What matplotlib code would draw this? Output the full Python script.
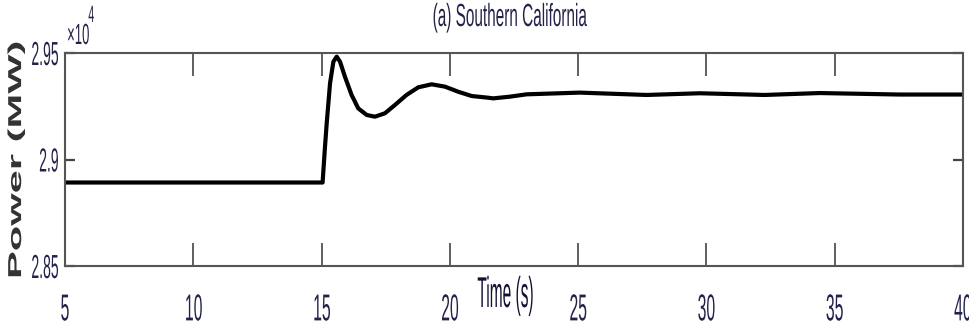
import matplotlib
matplotlib.use("Agg")
import matplotlib.pyplot as plt
import matplotlib.patheffects as pe
from matplotlib.transforms import Affine2D
from matplotlib.ticker import FuncFormatter

# values (time in s, power in MW)
time_s = [5.0, 15.04, 15.13, 15.20, 15.33, 15.46, 15.59, 15.72, 15.91, 16.17,
          16.43, 16.76, 17.08, 17.47, 17.86, 18.31, 18.77, 19.29, 19.81, 20.33,
          20.85, 21.50, 21.69, 22.34, 22.99, 25.06, 27.67, 29.74, 32.27, 34.41,
          37.53, 40.0]
power_mw = [28892, 28892, 29054, 29170, 29358, 29459, 29483, 29459, 29389, 29303,
            29240, 29209, 29201, 29217, 29256, 29303, 29339, 29353, 29342, 29318,
            29298, 29290, 29287, 29295, 29306, 29314, 29303, 29311, 29303, 29312,
            29305, 29305]
x_ticks = [5, 10, 15, 20, 25, 30, 35, 40]
y_ticks = [28500, 29000, 29500]


class Squeeze(pe.AbstractPathEffect):
    # the source picture is squashed sideways, so squash the glyphs the same way
    def __init__(self, sx=0.42, anchor=0.5):
        super().__init__()
        self.sx = sx
        self.anchor = anchor

    def draw_path(self, renderer, gc, tpath, affine, rgbFace=None):
        ext = tpath.get_extents(affine)
        cx = ext.x0 + self.anchor * ext.width
        t = affine + Affine2D().translate(-cx, 0).scale(self.sx, 1).translate(cx, 0)
        renderer.draw_path(gc, tpath, t, rgbFace)


W, H = 970, 331
txt_col = "#23234a"
font = "Liberation Sans"

fig = plt.figure(figsize=(W / 100, H / 100), dpi=100)
ax = fig.add_axes([65 / W, 1 - 266 / H, 898 / W, 213 / H])

ax.plot(time_s, power_mw, color="black", lw=3.0, solid_joinstyle="round")

ax.set_xlim(5, 40)
ax.set_ylim(28500, 29500)
ax.set_xticks(x_ticks)
ax.set_yticks(y_ticks)
ax.yaxis.set_major_formatter(FuncFormatter(lambda v, p: f"{v / 1e4:g}"))

ax.tick_params(axis="x", direction="in", length=16.5, width=1.2, color="#444444",
               top=True, pad=19, labelsize=27)
ax.tick_params(axis="y", direction="in", length=7.5, width=1.6, color="#444444",
               right=True, pad=4, labelsize=24)
for lab in ax.get_xticklabels():
    lab.set_fontfamily(font)
    lab.set_color(txt_col)
    lab.set_path_effects([Squeeze(0.42, 0.5)])
for lab in ax.get_yticklabels():
    lab.set_fontfamily(font)
    lab.set_color(txt_col)
    lab.set_path_effects([Squeeze(0.42, 1.0)])
for s in ax.spines.values():
    s.set_color("#555555")
    s.set_linewidth(1.5)

fig.text(510 / W, 1 - 18 / H, "(a) Southern California", fontfamily=font,
         fontsize=23, color=txt_col, ha="center", va="center",
         path_effects=[Squeeze(0.48)])
fig.text(506 / W, 1 - 296 / H, "Time (s)", fontfamily=font, fontsize=31,
         color="#111133", ha="center", va="center", path_effects=[Squeeze(0.36)])
fig.text(16 / W, 1 - 160 / H, "Power (MW)", fontfamily=font, fontweight="bold",
         fontsize=30, color="#333333", rotation=90, ha="center", va="center",
         path_effects=[Squeeze(0.45)])
fig.text(66 / W, 1 - 44 / H, "×10", fontfamily=font, fontsize=21,
         color=txt_col, ha="left", va="baseline", path_effects=[Squeeze(0.45, 0.0)])
fig.text(88 / W, 1 - 22 / H, "4", fontfamily=font, fontsize=17,
         color=txt_col, ha="left", va="baseline", path_effects=[Squeeze(0.45, 0.0)])

fig.savefig("out.png", dpi=100)
